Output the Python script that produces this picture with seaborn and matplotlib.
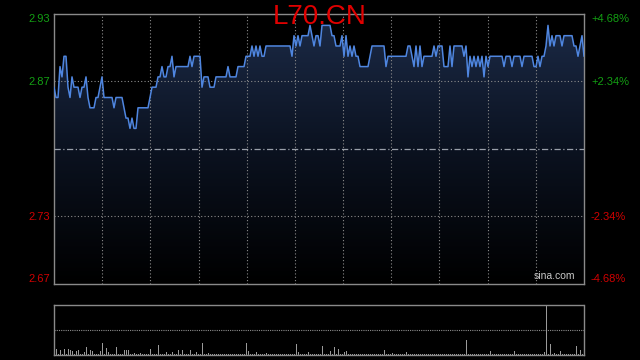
import numpy as np
import pandas as pd
import matplotlib
matplotlib.use("Agg")
import matplotlib.pyplot as plt
from matplotlib.colors import LinearSegmentedColormap
import seaborn as sns

# ---------------- data ----------------
title = "L70.CN"
prev_close = 2.80
left_labels = ["2.67", "2.73", "2.87", "2.93"]
right_labels = ["-4.68%", "-2.34%", "+2.34%", "+4.68%"]
pct_levels = [-0.0468, -0.0234, 0.0234, 0.0468]

price = [
    2.86, 2.85, 2.85, 2.88, 2.87, 2.89, 2.89, 2.86, 2.85, 2.87,
    2.86, 2.86, 2.86, 2.85, 2.86, 2.86, 2.87, 2.85, 2.84, 2.84,
    2.84, 2.85, 2.85, 2.86, 2.87, 2.85, 2.85, 2.85, 2.85, 2.85,
    2.84, 2.85, 2.85, 2.85, 2.85, 2.84, 2.83, 2.83, 2.82, 2.83,
    2.82, 2.82, 2.84, 2.84, 2.84, 2.84, 2.84, 2.84, 2.85, 2.86,
    2.86, 2.86, 2.87, 2.87, 2.88, 2.87, 2.87, 2.88, 2.88, 2.89,
    2.87, 2.88, 2.88, 2.88, 2.88, 2.88, 2.88, 2.88, 2.89, 2.88,
    2.89, 2.89, 2.89, 2.89, 2.86, 2.87, 2.87, 2.87, 2.86, 2.86,
    2.86, 2.87, 2.87, 2.87, 2.87, 2.87, 2.87, 2.88, 2.87, 2.87,
    2.87, 2.87, 2.88, 2.88, 2.88, 2.88, 2.89, 2.89, 2.89, 2.90,
    2.89, 2.90, 2.89, 2.90, 2.89, 2.89, 2.90, 2.90, 2.90, 2.90,
    2.90, 2.90, 2.90, 2.90, 2.90, 2.90, 2.90, 2.90, 2.90, 2.89,
    2.91, 2.90, 2.91, 2.90, 2.91, 2.91, 2.91, 2.91, 2.92, 2.91,
    2.90, 2.91, 2.91, 2.90, 2.92, 2.92, 2.92, 2.92, 2.92, 2.91,
    2.91, 2.90, 2.90, 2.90, 2.91, 2.89, 2.91, 2.89, 2.90, 2.89,
    2.90, 2.89, 2.89, 2.88, 2.88, 2.88, 2.88, 2.88, 2.89, 2.90,
    2.90, 2.90, 2.90, 2.90, 2.90, 2.90, 2.88, 2.89, 2.89, 2.89,
    2.89, 2.89, 2.89, 2.89, 2.89, 2.89, 2.89, 2.90, 2.90, 2.89,
    2.88, 2.90, 2.88, 2.90, 2.88, 2.89, 2.89, 2.89, 2.89, 2.89,
    2.90, 2.89, 2.90, 2.90, 2.90, 2.88, 2.88, 2.88, 2.90, 2.88,
    2.90, 2.90, 2.90, 2.90, 2.90, 2.89, 2.90, 2.87, 2.89, 2.88,
    2.89, 2.88, 2.89, 2.88, 2.89, 2.87, 2.89, 2.88, 2.89, 2.89,
    2.89, 2.89, 2.89, 2.89, 2.89, 2.88, 2.89, 2.89, 2.89, 2.88,
    2.89, 2.89, 2.89, 2.89, 2.88, 2.89, 2.89, 2.89, 2.89, 2.89,
    2.88, 2.88, 2.89, 2.88, 2.89, 2.89, 2.90, 2.92, 2.90, 2.91,
    2.90, 2.91, 2.91, 2.91, 2.90, 2.91, 2.91, 2.91, 2.91, 2.91,
    2.90, 2.90, 2.89, 2.90, 2.91, 2.89,
]

volume = [
    22.7, 6, 1, 5, 1, 6, 1, 6, 5, 4,
    1, 4, 5, 1, 1, 3, 8, 1, 5, 4,
    1, 1, 1, 4, 11.7, 1, 7, 3, 1, 1,
    1, 8, 1, 1, 1, 5, 5, 5, 1, 1,
    2, 1, 1, 2, 1, 1, 1, 1, 6, 1,
    1, 1, 10, 1, 1, 1, 3, 1, 1, 3,
    1, 1, 5, 1, 5, 1, 1, 1, 5, 1,
    1, 3, 1, 1, 11.7, 1, 1, 2, 1, 1,
    1, 1, 1, 1, 1, 1, 1, 1, 1, 1,
    1, 1, 1, 1, 1, 1, 11.7, 4, 1, 1,
    1, 3, 1, 1, 1, 1, 2, 1, 1, 1,
    1, 1, 1, 1, 1, 1, 1, 1, 1, 1,
    1, 10.7, 3, 1, 1, 1, 1, 3, 1, 1,
    1, 1, 1, 1, 9, 1, 1, 1, 4, 1,
    8, 1, 5.7, 1, 1, 3, 4, 1, 1, 1,
    1, 1, 1, 1, 1, 1, 1, 1, 1, 1,
    1, 1, 1, 1, 1, 5, 1, 1, 1, 2,
    1, 1, 1, 1, 1, 1, 3, 1, 1, 1,
    1, 1, 1, 1, 1, 1, 1, 1, 1, 1,
    1, 1, 1, 1, 1, 1, 1, 1, 1, 1,
    1, 1, 1, 1, 1, 1, 15, 1, 1, 1,
    1, 1, 1, 1, 1, 1, 1, 1, 4, 1,
    1, 1, 1, 1, 1, 1, 1, 1, 1, 1,
    4, 1, 1, 1, 1, 1, 1, 1, 1, 1,
    1, 1, 1, 1, 1, 3, 50, 1, 11, 1,
    2, 1, 1, 4, 1, 1, 1, 1, 1, 1,
    1, 9, 1, 5, 1, 5,
]

df = pd.DataFrame({"t": np.arange(len(price)), "price": price, "volume": volume})

# ---------------- style ----------------
sns.set_theme(style="dark")
plt.rcParams["font.family"] = ["Liberation Sans", "DejaVu Sans"]

W, H = 640, 360
fig = plt.figure(figsize=(6.4, 3.6), dpi=100, facecolor="black")

ax = fig.add_axes([54 / W, (H - 284) / H, 530 / W, 270 / H])
axv = fig.add_axes([54 / W, (H - 355) / H, 530 / W, 50 / H])

ymin = prev_close * (1 + pct_levels[0])
ymax = prev_close * (1 + pct_levels[-1])
n = len(df)
xmax = n - 1

for a in (ax, axv):
    a.set_facecolor("black")
    a.grid(False)
    for s in a.spines.values():
        s.set_color("#8a8a8a")
        s.set_linewidth(1.0)
        s.set_visible(True)

# price gradient fill under the line
poly = ax.fill_between(df["t"], df["price"], ymin, facecolor="none", edgecolor="none")
cmap = LinearSegmentedColormap.from_list("g", ["#000000", "#0b1220", "#1c2b48"])
grad = np.linspace(0, 1, 256).reshape(-1, 1)
im = ax.imshow(grad, cmap=cmap, origin="lower", aspect="auto",
               extent=[0, xmax, ymin, ymax], zorder=1)
im.set_clip_path(poly.get_paths()[0], transform=ax.transData)

sns.lineplot(data=df, x="t", y="price", ax=ax, color="#4f86e0",
             linewidth=1.1, zorder=4, legend=False)

ax.set_xlim(0, xmax)
ax.set_ylim(ymin, ymax)

# gridlines
for k in range(1, 11):
    ax.axvline(k * xmax / 11, color="#8c8c8c", lw=0.8, ls=(0, (1, 2)), zorder=3)
for p in (pct_levels[1], pct_levels[2]):
    ax.axhline(prev_close * (1 + p), color="#8c8c8c", lw=0.8, ls=(0, (1, 2)), zorder=3)
ax.axhline(prev_close, color="#9aa0aa", lw=0.9, ls=(0, (5, 2, 1, 2)), zorder=3)

ax.set_xticks([])
ax.set_xlabel("")
ax.set_ylabel("")
yt = [prev_close * (1 + p) for p in pct_levels]
ax.set_yticks(yt)
ax.set_yticklabels(left_labels, fontsize=8)
ax.tick_params(axis="y", length=0, pad=3)
lab_colors = ["#d00000", "#d00000", "#13a013", "#13a013"]
for lbl, c in zip(ax.get_yticklabels(), lab_colors):
    lbl.set_color(c)
ax.get_yticklabels()[0].set_va("bottom")
ax.get_yticklabels()[-1].set_va("top")

axr = ax.twinx()
axr.set_ylim(ymin, ymax)
axr.set_yticks(yt)
axr.set_yticklabels(right_labels, fontsize=8)
axr.tick_params(axis="y", length=0, pad=5)
for lbl, c in zip(axr.get_yticklabels(), lab_colors):
    lbl.set_color(c)
axr.get_yticklabels()[0].set_va("bottom")
axr.get_yticklabels()[-1].set_va("top")
axr.grid(False)
for s in axr.spines.values():
    s.set_visible(False)

ax.text(0.983, 0.012, "sina.com", transform=ax.transAxes, ha="right", va="bottom",
        color="#c8c8c8", fontsize=7.5, zorder=6)

fig.text(0.5, 1 - 17 / H, title, ha="center", va="center", color="#e00000",
         fontsize=20, zorder=10)

# volume panel
sns.barplot(data=df, x="t", y="volume", ax=axv, native_scale=True, width=0.5,
            color="#9a9a9a", errorbar=None, linewidth=0, saturation=1)
axv.set_xlim(0, xmax)
axv.set_ylim(0, 50)
axv.axhline(25, color="#8c8c8c", lw=0.8, ls=(0, (1, 1)), zorder=0)
axv.spines["top"].set_linestyle((0, (1, 1)))
axv.set_xticks([])
axv.set_yticks([])
axv.set_xlabel("")
axv.set_ylabel("")

fig.savefig("out.png", dpi=100, facecolor="black")
